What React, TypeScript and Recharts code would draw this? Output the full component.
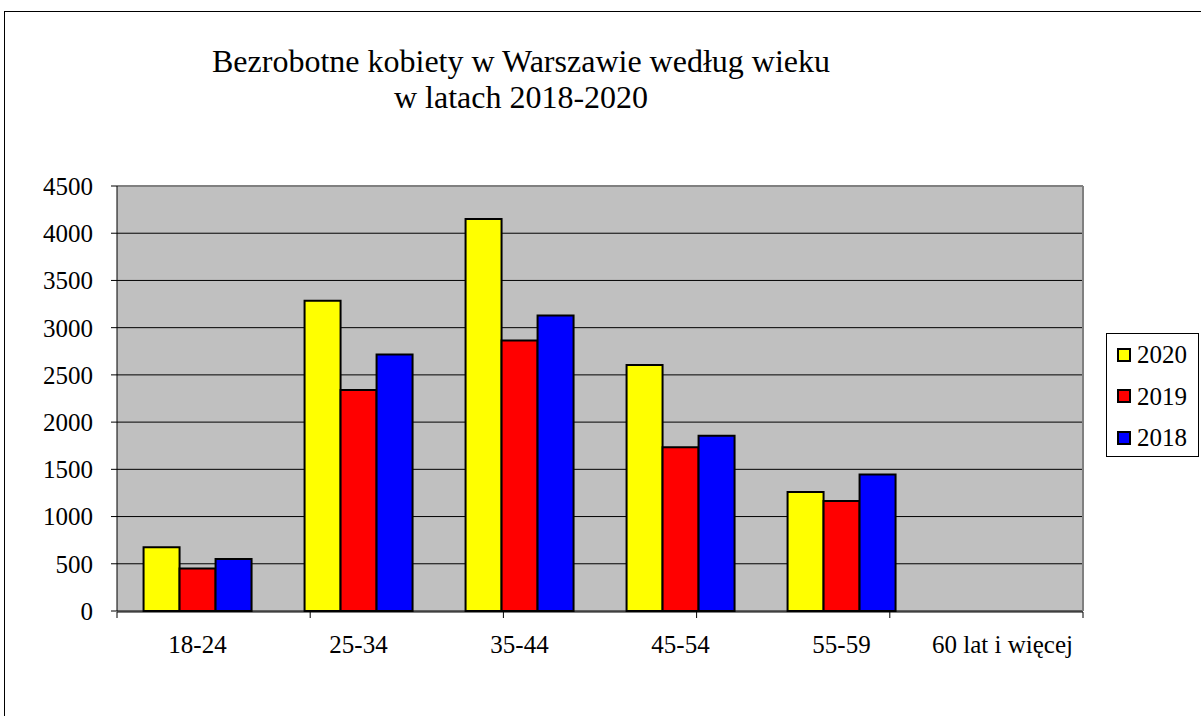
import { BarChart, Bar, XAxis, YAxis, CartesianGrid } from 'recharts'

const ageGroups = ['18-24', '25-34', '35-44', '45-54', '55-59', '60 lat i więcej']
const women2020 = [675, 3285, 4150, 2605, 1260, null]
const women2019 = [450, 2340, 2865, 1735, 1165, null]
const women2018 = [550, 2715, 3130, 1855, 1445, null]
const yTicks = [0, 500, 1000, 1500, 2000, 2500, 3000, 3500, 4000, 4500]
const edgeTicks = [0, 1, 2, 3, 4, 5, 6]

const series = [
  { key: 'y2020', name: '2020', color: '#FFFF00' },
  { key: 'y2019', name: '2019', color: '#FF0000' },
  { key: 'y2018', name: '2018', color: '#0000FF' },
]

const data = ageGroups.map((age, i) => ({
  age,
  y2020: women2020[i],
  y2019: women2019[i],
  y2018: women2018[i],
}))

const FONT = "'Liberation Serif', 'Times New Roman', serif"
const tickStyle = { fill: '#000', fontSize: 25, fontFamily: FONT }

function ChartLegend() {
  return (
    <div
      style={{
        position: 'absolute',
        left: 1106,
        top: 333,
        width: 93,
        height: 124,
        border: '1px solid #000',
        background: '#fff',
        boxSizing: 'border-box',
        fontFamily: FONT,
        fontSize: 25,
      }}
    >
      {series.map((s) => (
        <div key={s.key} style={{ display: 'flex', alignItems: 'center', height: 41.5, paddingLeft: 10 }}>
          <span
            style={{
              width: 10,
              height: 10,
              background: s.color,
              border: '2px solid #000',
              marginRight: 6,
              display: 'inline-block',
            }}
          />
          <span style={{ lineHeight: '25px' }}>{s.name}</span>
        </div>
      ))}
    </div>
  )
}

export default function App() {
  return (
    <div
      style={{
        position: 'absolute',
        left: 0,
        top: 0,
        width: 1201,
        height: 716,
        overflow: 'hidden',
        background: '#fff',
      }}
    >
      <div
        style={{
          position: 'absolute',
          left: 4,
          top: 11,
          width: 1300,
          height: 800,
          borderTop: '1px solid #000',
          borderLeft: '1px solid #000',
        }}
      />
      <div
        style={{
          position: 'absolute',
          left: 121,
          width: 800,
          top: 43,
          textAlign: 'center',
          fontFamily: FONT,
          fontSize: 32,
          lineHeight: '36px',
          color: '#000',
        }}
      >
        <div>Bezrobotne kobiety w Warszawie według wieku</div>
        <div>w latach 2018-2020</div>
      </div>

      <div style={{ position: 'absolute', left: 0, top: 0 }}>
        <BarChart
          width={1201}
          height={716}
          data={data}
          margin={{ top: 185, right: 117, bottom: 103, left: 0 }}
          barCategoryGap="16.5%"
          barGap={0}
        >
          <CartesianGrid fill="#C0C0C0" stroke="#000" vertical={false} />
          <XAxis
            xAxisId="edges"
            type="number"
            domain={[0, 6]}
            ticks={edgeTicks}
            allowDataOverflow
            height={1}
            tickSize={6}
            tickFormatter={() => ''}
            axisLine={{ stroke: '#000' }}
            tickLine={{ stroke: '#000' }}
          />
          <XAxis
            dataKey="age"
            height={1}
            tickLine={false}
            axisLine={false}
            tickSize={6}
            tickMargin={18}
            tick={tickStyle}
            interval={0}
          />
          <XAxis
            xAxisId="top"
            orientation="top"
            type="number"
            domain={[0, 1]}
            height={1}
            tick={false}
            tickLine={false}
            axisLine={{ stroke: '#808080', strokeWidth: 2 }}
          />
          <YAxis
            width={117}
            domain={[0, 4500]}
            ticks={yTicks}
            interval={0}
            tickSize={6}
            tickMargin={18}
            tick={tickStyle}
            axisLine={{ stroke: '#000' }}
            tickLine={{ stroke: '#000' }}
          />
          <YAxis
            yAxisId="right"
            orientation="right"
            width={1}
            domain={[0, 1]}
            tick={false}
            tickLine={false}
            axisLine={{ stroke: '#808080', strokeWidth: 2 }}
          />
          {series.map((s) => (
            <Bar
              key={s.key}
              dataKey={s.key}
              name={s.name}
              fill={s.color}
              stroke="#000"
              strokeWidth={2}
              isAnimationActive={false}
            />
          ))}
        </BarChart>
      </div>

      <ChartLegend />
    </div>
  )
}
